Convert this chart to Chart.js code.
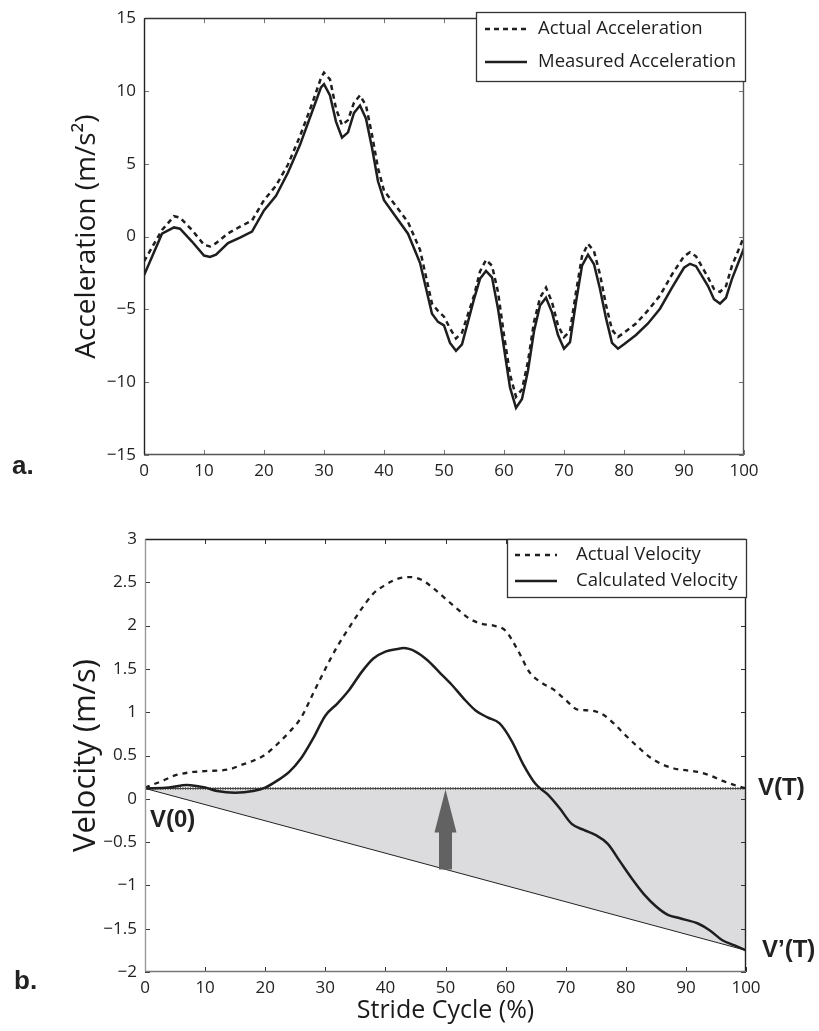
<!DOCTYPE html>
<html>
<head>
<meta charset="utf-8">
<script src="https://cdn.jsdelivr.net/npm/chart.js@4.4.1/dist/chart.umd.min.js"></script>
<style>
  html, body { margin: 0; padding: 0; background: #fff; }
  #wrap { position: relative; width: 819px; height: 1031px; }
  #accChart { position: absolute; left: 0; top: 0; }
  #velChart { position: absolute; left: 0; top: 500px; }
</style>
</head>
<body>
<div id="wrap">
  <canvas id="accChart" width="819" height="500"></canvas>
  <canvas id="velChart" width="819" height="531"></canvas>
</div>
<script>
// ---- data ----
// panel a: stride cycle (%) and acceleration (m/s^2)
const accX = [0, 3, 5, 6, 8, 10, 11, 12, 14, 16, 18, 20, 22, 24, 26, 28, 29.5, 30, 31, 32,
  33, 34, 35, 36, 37, 38, 39, 40, 42, 44, 46, 48, 49, 50, 51, 52, 53, 55, 56, 57,
  58, 59, 60, 61, 62, 63, 64, 65, 66, 67, 68, 69, 70, 71, 72, 73, 74, 75, 76, 77,
  78, 79, 80, 82, 84, 86, 88, 90, 91, 92, 94, 95, 96, 97, 98, 100];
const actualAcc = [-1.7, 0.45, 1.4, 1.3, 0.45, -0.56, -0.68, -0.45, 0.22, 0.68, 1.1, 2.5, 3.5, 4.95, 6.9, 9.1, 10.9, 11.26, 10.8, 8.8,
  7.66, 8.0, 9.2, 9.7, 9.0, 7.0, 4.7, 3.15, 2.1, 1.0, -0.9, -4.6, -5.1, -5.5, -6.3, -7.0, -6.6, -4.05, -2.4, -1.6,
  -2.0, -3.8, -6.76, -9.46, -11.0, -10.5, -8.56, -5.86, -4.2, -3.5, -4.5, -6.1, -6.9, -6.5, -3.8, -1.35, -0.5, -1.0, -2.6, -4.7,
  -6.4, -6.9, -6.6, -5.97, -5.07, -4.05, -2.6, -1.35, -1.08, -1.35, -2.8, -3.6, -3.8, -3.4, -2.0, 0.0];
const measuredAcc = [-2.66, 0.2, 0.63, 0.54, -0.34, -1.3, -1.4, -1.24, -0.45, -0.07, 0.34, 1.8, 2.8, 4.4, 6.3, 8.56, 10.25, 10.47, 9.7, 7.9,
  6.8, 7.16, 8.5, 9.0, 8.1, 6.1, 3.8, 2.5, 1.35, 0.2, -1.8, -5.3, -5.86, -6.1, -7.3, -7.84, -7.4, -4.3, -2.9, -2.36,
  -2.8, -4.95, -7.66, -10.36, -11.76, -11.15, -9.2, -6.5, -4.73, -4.2, -5.2, -6.76, -7.7, -7.25, -4.5, -2.0, -1.24, -1.9, -3.6, -5.6,
  -7.3, -7.7, -7.4, -6.76, -5.97, -4.95, -3.5, -2.14, -1.87, -2.03, -3.4, -4.3, -4.6, -4.2, -2.9, -0.8];

// panel b: velocity (m/s)
const actualVelX = [0, 3, 5, 8, 10, 14, 16, 18, 20, 22, 24, 26, 28, 30, 32, 34, 36, 38, 40, 42,
  44, 46, 48, 50, 52, 54, 56, 58, 60, 62, 64, 66, 68, 70, 72, 74, 76, 78, 80, 82,
  84, 86, 88, 90, 92, 94, 96, 98, 100];
const actualVel = [0.13, 0.21, 0.27, 0.31, 0.32, 0.34, 0.39, 0.44, 0.51, 0.63, 0.77, 0.94, 1.22, 1.5, 1.76, 1.98, 2.19, 2.37, 2.47, 2.54,
  2.56, 2.53, 2.43, 2.31, 2.19, 2.08, 2.02, 2.0, 1.94, 1.72, 1.46, 1.34, 1.26, 1.14, 1.03, 1.02, 0.98, 0.87, 0.73, 0.6,
  0.48, 0.4, 0.35, 0.33, 0.31, 0.27, 0.21, 0.16, 0.12];
const calcVelX = [0, 4, 7, 10, 12, 15, 18, 20, 22, 24, 26, 28, 30, 32, 34, 36, 38, 40, 42, 43,
  45, 47, 49, 51, 53, 55, 57, 59, 61, 63, 65, 67, 69, 71, 73, 75, 77, 79, 81, 83,
  85, 87, 89, 92, 94, 96, 98, 100];
const calcVel = [0.12, 0.13, 0.16, 0.13, 0.09, 0.07, 0.09, 0.13, 0.21, 0.31, 0.47, 0.7, 0.96, 1.1, 1.26, 1.46, 1.62, 1.7, 1.73, 1.74,
  1.7, 1.6, 1.46, 1.32, 1.16, 1.02, 0.94, 0.87, 0.67, 0.39, 0.17, 0.05, -0.11, -0.29, -0.36, -0.42, -0.52, -0.72, -0.92, -1.1,
  -1.24, -1.34, -1.38, -1.44, -1.52, -1.63, -1.69, -1.75];

// drift correction: V(0) -> V(T) level and V(0) -> V'(T)
const driftX = [0, 100];
const levelV = [0.12, 0.12];
const driftV = [0.12, -1.75];
const arrowAt = 50;

// ticks
const strideTicks = [0, 10, 20, 30, 40, 50, 60, 70, 80, 90, 100];
const accTicks = [-15, -10, -5, 0, 5, 10, 15];
const velTicks = [-2, -1.5, -1, -0.5, 0, 0.5, 1, 1.5, 2, 2.5, 3];

const pts = (xs, ys) => xs.map((x, i) => ({ x: x, y: ys[i] }));
const minus = v => String(v).replace("-", "\u2212");
const sans = "'Open Sans', 'Noto Sans', sans-serif";
const tickFont = { family: sans, size: 17 };
const ink = "#1e1e1e";

// inward tick marks on all four sides + box
const framePlugin = {
  id: "frame",
  afterDatasetsDraw(chart, args, o) {
    const { ctx, chartArea: a, scales } = chart;
    ctx.save();
    ctx.lineWidth = 1;
    ctx.strokeStyle = o.tickColor;
    ctx.beginPath();
    scales.x.ticks.forEach(t => {
      const px = Math.round(scales.x.getPixelForValue(t.value)) + 0.5;
      ctx.moveTo(px, a.top); ctx.lineTo(px, a.top + 5);
      ctx.moveTo(px, a.bottom); ctx.lineTo(px, a.bottom - 5);
    });
    scales.y.ticks.forEach(t => {
      const py = Math.round(scales.y.getPixelForValue(t.value)) + 0.5;
      ctx.moveTo(a.left, py); ctx.lineTo(a.left + 5, py);
      ctx.moveTo(a.right, py); ctx.lineTo(a.right - 5, py);
    });
    ctx.stroke();
    const L = Math.round(a.left) + 0.5, R = Math.round(a.right) - 0.5;
    const T = Math.round(a.top) + 0.5, B = Math.round(a.bottom) - 0.5;
    const side = (c, x1, y1, x2, y2) => {
      ctx.strokeStyle = c; ctx.lineWidth = 1.4;
      ctx.beginPath(); ctx.moveTo(x1, y1); ctx.lineTo(x2, y2); ctx.stroke();
    };
    side(o.top, L, T, R, T);
    side(o.right, R, T, R, B);
    side(o.bottom, L, B, R, B);
    side(o.left, L, T, L, B);
    ctx.restore();
  }
};

// boxed legend inside the plot, top right
const boxLegend = {
  id: "boxLegend",
  afterDraw(chart, args, o) {
    const { ctx } = chart;
    ctx.save();
    ctx.fillStyle = "#fff";
    ctx.fillRect(o.x, o.y, o.w, o.h);
    ctx.strokeStyle = "#333";
    ctx.lineWidth = 1.3;
    ctx.strokeRect(o.x + 0.5, o.y + 0.5, o.w, o.h);
    o.items.forEach((it, i) => {
      const cy = o.y + o.first + i * o.gap;
      ctx.strokeStyle = ink;
      ctx.lineWidth = 2.5;
      ctx.setLineDash(it.dash);
      ctx.beginPath();
      ctx.moveTo(o.x + o.s0, cy);
      ctx.lineTo(o.x + o.s1, cy);
      ctx.stroke();
      ctx.setLineDash([]);
      ctx.fillStyle = "#1e1e1e";
      ctx.font = "18.5px " + sans;
      ctx.textBaseline = "middle";
      ctx.fillText(it.text, o.x + o.tx, cy);
    });
    ctx.restore();
  }
};

// panel letters and point labels
const notes = {
  id: "notes",
  afterDraw(chart, args, o) {
    const { ctx, scales } = chart;
    ctx.save();
    ctx.fillStyle = "#222";
    ctx.textBaseline = "middle";
    ctx.font = "bold 26px 'Liberation Sans', Arial, sans-serif";
    ctx.fillText(o.letter, o.lx, o.ly);
    if (o.drift) {
      const xs = scales.x, ys = scales.y;
      ctx.font = "bold 24px 'Liberation Sans', Arial, sans-serif";
      ctx.fillText("V(0)", xs.getPixelForValue(driftX[0]) + 5, ys.getPixelForValue(levelV[0]) + 32);
      ctx.fillText("V(T)", xs.getPixelForValue(driftX[1]) + 12, ys.getPixelForValue(levelV[1]));
      ctx.fillText("V\u2019(T)", xs.getPixelForValue(driftX[1]) + 16, ys.getPixelForValue(driftV[1]));
      // upward arrow from the drift line to the V(T) level
      const t = (arrowAt - driftX[0]) / (driftX[1] - driftX[0]);
      const px = xs.getPixelForValue(arrowAt);
      const yTip = ys.getPixelForValue(levelV[0] + t * (levelV[1] - levelV[0]));
      const yBase = ys.getPixelForValue(driftV[0] + t * (driftV[1] - driftV[0]));
      ctx.fillStyle = "#626262";
      ctx.beginPath();
      ctx.moveTo(px, yTip + 1);
      ctx.lineTo(px + 11, yTip + 44);
      ctx.lineTo(px + 6.5, yTip + 44);
      ctx.lineTo(px + 6.5, yBase);
      ctx.lineTo(px - 6.5, yBase);
      ctx.lineTo(px - 6.5, yTip + 44);
      ctx.lineTo(px - 11, yTip + 44);
      ctx.closePath();
      ctx.fill();
    }
    ctx.restore();
  }
};

function xAxis(titleText) {
  return {
    type: "linear",
    min: 0,
    max: 100,
    afterBuildTicks: s => { s.ticks = strideTicks.map(v => ({ value: v })); },
    afterFit: s => { s.height = titleText ? 59 : 45; },
    grid: { display: false, drawTicks: false },
    border: { display: false },
    ticks: { color: "#222", font: tickFont, padding: 6, maxRotation: 0 },
    title: {
      display: !!titleText,
      text: titleText,
      color: "#1a1a1a",
      font: { family: sans, size: 25 },
      padding: { top: 0, bottom: 5 }
    }
  };
}

function yAxis(ticksArr, titleText, width, size, pad) {
  return {
    type: "linear",
    min: ticksArr[0],
    max: ticksArr[ticksArr.length - 1],
    afterBuildTicks: s => { s.ticks = ticksArr.map(v => ({ value: v })); },
    afterFit: s => { s.width = width; },
    grid: { display: false, drawTicks: false },
    border: { display: false },
    ticks: { color: "#222", font: tickFont, padding: 8, callback: minus },
    title: {
      display: true,
      text: titleText,
      color: "#1a1a1a",
      font: { family: sans, size: size },
      padding: { top: pad, bottom: 0 }
    }
  };
}

Chart.defaults.animation = false;

new Chart(document.getElementById("accChart"), {
  type: "line",
  data: {
    datasets: [
      {
        label: "Actual Acceleration",
        data: pts(accX, actualAcc),
        borderColor: ink,
        borderWidth: 2.5,
        borderDash: [5, 4],
        pointRadius: 0,
        tension: 0
      },
      {
        label: "Measured Acceleration",
        data: pts(accX, measuredAcc),
        borderColor: ink,
        borderWidth: 2.5,
        pointRadius: 0,
        tension: 0
      }
    ]
  },
  options: {
    responsive: false,
    layout: { padding: { left: 0, right: 75, top: 12, bottom: 0 } },
    scales: {
      x: xAxis(null),
      y: yAxis(accTicks, "Acceleration (m/s\u00b2)", 144, 28, 70)
    },
    plugins: {
      legend: { display: false },
      tooltip: { enabled: false },
      frame: { tickColor: "#777", top: "#333", right: "#555", bottom: "#555", left: "#222" },
      boxLegend: {
        x: 476, y: 12, w: 269, h: 69, first: 17, gap: 33, s0: 9, s1: 51, tx: 62,
        items: [
          { text: "Actual Acceleration", dash: [5, 4] },
          { text: "Measured Acceleration", dash: [] }
        ]
      },
      notes: { letter: "a.", lx: 12, ly: 467, drift: false }
    }
  },
  plugins: [framePlugin, boxLegend, notes]
});

new Chart(document.getElementById("velChart"), {
  type: "line",
  data: {
    datasets: [
      {
        label: "Actual Velocity",
        data: pts(actualVelX, actualVel),
        borderColor: ink,
        borderWidth: 2.3,
        borderDash: [5, 5],
        pointRadius: 0,
        tension: 0.4,
        cubicInterpolationMode: "monotone",
        order: 0
      },
      {
        label: "Calculated Velocity",
        data: pts(calcVelX, calcVel),
        borderColor: ink,
        borderWidth: 2.5,
        pointRadius: 0,
        tension: 0.4,
        cubicInterpolationMode: "monotone",
        order: 0
      },
      {
        label: "V(T) level",
        data: pts(driftX, levelV),
        borderColor: "#333",
        borderWidth: 1,
        backgroundColor: "#dcdcde",
        fill: 3,
        pointRadius: 0,
        order: 3
      },
      {
        label: "drift",
        data: pts(driftX, driftV),
        borderColor: "#222",
        borderWidth: 1,
        pointRadius: 0,
        order: 2
      },
      {
        label: "level hatch",
        data: pts(driftX, levelV),
        borderColor: "rgba(70,70,70,0.75)",
        borderWidth: 3,
        borderDash: [1, 1.5],
        pointRadius: 0,
        order: 2
      }
    ]
  },
  options: {
    responsive: false,
    layout: { padding: { left: 0, right: 73, top: 39, bottom: 0 } },
    scales: {
      x: xAxis("Stride Cycle (%)"),
      y: yAxis(velTicks, "Velocity (m/s)", 145, 31, 68)
    },
    plugins: {
      legend: { display: false },
      tooltip: { enabled: false },
      frame: { tickColor: "#333", top: "#222", right: "#222", bottom: "#777", left: "#999" },
      boxLegend: {
        x: 507, y: 39, w: 239, h: 58, first: 16, gap: 26, s0: 8, s1: 50, tx: 69,
        items: [
          { text: "Actual Velocity", dash: [5, 5] },
          { text: "Calculated Velocity", dash: [] }
        ]
      },
      notes: { letter: "b.", lx: 14, ly: 482, drift: true }
    }
  },
  plugins: [framePlugin, boxLegend, notes]
});
</script>
</body>
</html>
